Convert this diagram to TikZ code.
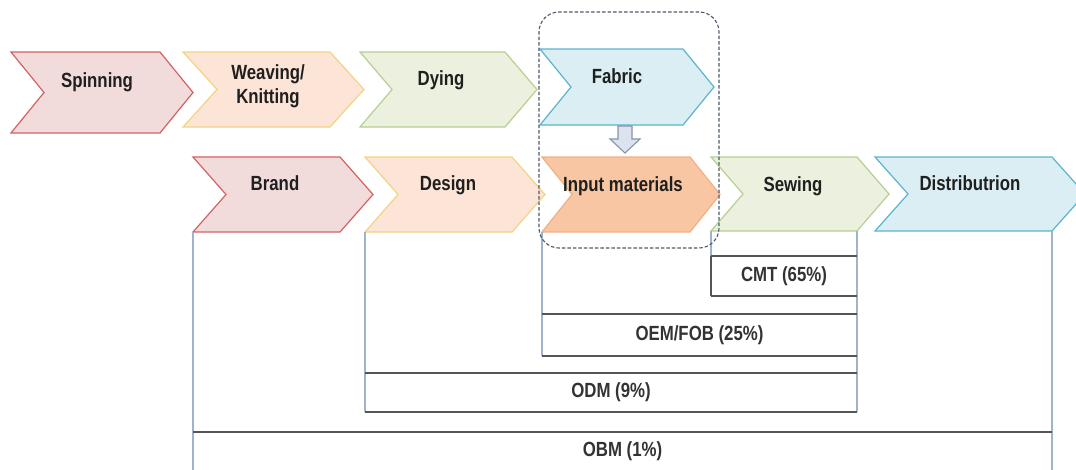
\documentclass[tikz,border=0pt]{standalone}
\usepackage{fontspec}
\newfontfamily\narrowsans[FakeStretch=0.82]{Liberation Sans}
\definecolor{redfill}{HTML}{F2DCDB}\definecolor{redline}{HTML}{D46262}
\definecolor{peachfill}{HTML}{FCE4D6}\definecolor{peachline}{HTML}{F3D484}
\definecolor{greenfill}{HTML}{EBF1DE}\definecolor{greenline}{HTML}{B7CF90}
\definecolor{bluefill}{HTML}{DAEEF3}\definecolor{blueline}{HTML}{5BB4CE}
\definecolor{orangefill}{HTML}{F8C6A2}\definecolor{orangeline}{HTML}{F2B184}
\definecolor{frameblue}{HTML}{9FB4CB}
\definecolor{bargrey}{HTML}{555555}
\definecolor{focusline}{HTML}{4E5B68}
\definecolor{arrowfill}{HTML}{DCE3EE}\definecolor{arrowline}{HTML}{8495A8}

% chevron: name, left x, body right x, top y, bottom y, tip/notch depth, style
\newcommand\chevron[7]{%
  \draw[#7, line width=1.2pt, line join=miter]
    (#2,#4) coordinate (#1-nw) -- (#3,#4) coordinate (#1-ne)
    -- ({#3+#6},{(#4+#5)/2}) coordinate (#1-tip)
    -- (#3,#5) coordinate (#1-se) -- (#2,#5) coordinate (#1-sw)
    -- ({#2+#6},{(#4+#5)/2}) -- cycle;}

\begin{document}
\begin{tikzpicture}[x=1pt,y=-1pt,
  every node/.style={inner sep=0pt, outer sep=0pt},
  lab/.style={font=\narrowsans\bfseries\fontsize{20.5}{24}\selectfont, text=black!88, anchor=base},
  barlab/.style={font=\narrowsans\bfseries\fontsize{20.5}{24}\selectfont, text=black!80},
  redc/.style={fill=redfill, draw=redline},
  peachc/.style={fill=peachfill, draw=peachline},
  greenc/.style={fill=greenfill, draw=greenline},
  bluec/.style={fill=bluefill, draw=blueline},
  orangec/.style={fill=orangefill, draw=orangeline},
  frameline/.style={draw=frameblue, line width=1.1pt},
  barline/.style={draw=bargrey, line width=1.6pt},
  blockarrow/.style={fill=arrowfill, draw=arrowline, line width=1.1pt, line join=miter},
]
\useasboundingbox (0,0) rectangle (1076,469);
\fill[white] (0,0) rectangle (1076,469);

% upstream chain
\chevron{spin}{11}{160}{52}{133}{33}{redc}
\chevron{weave}{183}{330}{52}{127}{34}{peachc}
\chevron{dye}{360}{505}{52}{127}{32}{greenc}
\chevron{fabric}{540}{683}{49}{125}{31}{bluec}

% downstream chain
\chevron{brand}{193}{340}{157}{232}{33}{redc}
\chevron{design}{365}{512}{157}{232}{33}{peachc}
\chevron{input}{542}{690}{157}{232}{30}{orangec}
\chevron{sew}{711}{857}{157}{231}{32}{greenc}
\chevron{dist}{875}{1052}{157}{231}{33}{bluec}

\node[lab] (spinning) at (97,87) {Spinning};
\node[lab, anchor=center, align=center] (weaving) at (268,86) {Weaving/\\Knitting};
\node[lab] (dying) at (441,85) {Dying};
\node[lab] (fabrictxt) at (617,83) {Fabric};
\node[lab] (brandtxt) at (275,190) {Brand};
\node[lab] (designtxt) at (448,190) {Design};
\node[lab] (inputtxt) at (623,191) {Input materials};
\node[lab] (sewing) at (793,191) {Sewing};
\node[lab] (distribution) at (970,190) {Distributrion};

% fabric feeds the input materials
\path (625,126) coordinate (dtop);
\draw[blockarrow] (dtop) ++(-7,0) -- ++(14,0) -- ++(0,13) -- ++(8,0)
  -- ++(-15,14) -- ++(-15,-14) -- ++(8,0) -- cycle;

% business models
\node[barlab, minimum width=146pt, minimum height=40pt] (cmt) at (784,276) {CMT (65\%)};
\node[barlab, minimum width=315pt, minimum height=42pt] (oem) at (699.5,335) {OEM/FOB (25\%)};
\node[barlab, minimum width=492pt, minimum height=39pt] (odm) at (611,392.5) {ODM (9\%)};
\node[barlab, minimum width=859pt, minimum height=38pt] (obm) at (622.5,451) {OBM (1\%)};

% scope brackets hanging from the chain
\draw[frameline] (brand-sw) -- (brand-sw |- obm.south);
\draw[frameline] (dist-se) -- (dist-se |- obm.south);
\draw[frameline] (design-sw) -- (design-sw |- odm.south);
\draw[frameline] (sew-se) -- (sew-se |- odm.south);
\draw[frameline] (input-sw) -- (input-sw |- oem.south);
\draw[frameline] (sew-sw) -- (sew-sw |- cmt.north);

\draw[barline] (cmt.north west) -- (cmt.north east);
\draw[barline] (cmt.south west) -- (cmt.south east);
\draw[barline] (cmt.north west) -- (cmt.south west);
\draw[barline] (oem.north west) -- (oem.north east);
\draw[barline] (oem.south west) -- (oem.south east);
\draw[barline] (odm.north west) -- (odm.north east);
\draw[barline] (odm.south west) -- (odm.south east);
\draw[barline] (obm.north west) -- (obm.north east);

% fabric sourcing highlighted
\node[draw=focusline, dash pattern=on 3.5pt off 2pt, rounded corners=20pt, line width=1.1pt,
      minimum width=180pt, minimum height=236pt] (focus) at (629,130) {};
\end{tikzpicture}
\end{document}
